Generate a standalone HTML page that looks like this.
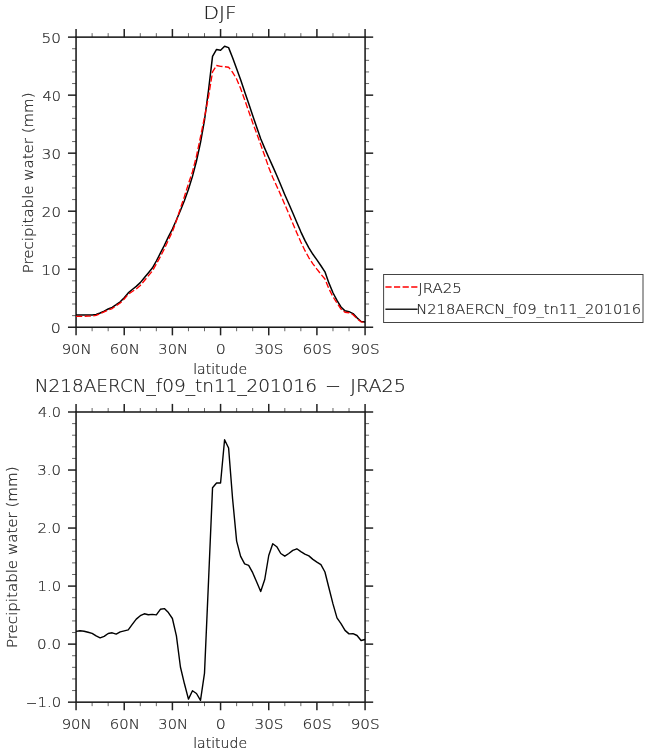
<!DOCTYPE html>
<html><head><meta charset="utf-8"><title>DJF Precipitable water</title>
<style>html,body{margin:0;padding:0;background:#fff}svg{display:block}text{font-family:"DejaVu Sans Light","DejaVu Sans","Liberation Sans",sans-serif;font-weight:200;fill:#1c1c1c;stroke:#1c1c1c;stroke-width:0.2px}</style></head><body>
<svg width="648" height="754" viewBox="0 0 648 754">
<rect width="648" height="754" fill="#fff"/>
<line x1="76.06" y1="37.13" x2="76.06" y2="29.03" stroke="#222" stroke-width="1.5"/>
<line x1="76.06" y1="327.24" x2="76.06" y2="335.34" stroke="#222" stroke-width="1.5"/>
<line x1="92.12" y1="37.13" x2="92.12" y2="33.13" stroke="#666" stroke-width="1.0"/>
<line x1="92.12" y1="327.24" x2="92.12" y2="331.24" stroke="#666" stroke-width="1.0"/>
<line x1="108.17" y1="37.13" x2="108.17" y2="33.13" stroke="#666" stroke-width="1.0"/>
<line x1="108.17" y1="327.24" x2="108.17" y2="331.24" stroke="#666" stroke-width="1.0"/>
<line x1="124.23" y1="37.13" x2="124.23" y2="29.03" stroke="#222" stroke-width="1.5"/>
<line x1="124.23" y1="327.24" x2="124.23" y2="335.34" stroke="#222" stroke-width="1.5"/>
<line x1="140.29" y1="37.13" x2="140.29" y2="33.13" stroke="#666" stroke-width="1.0"/>
<line x1="140.29" y1="327.24" x2="140.29" y2="331.24" stroke="#666" stroke-width="1.0"/>
<line x1="156.34" y1="37.13" x2="156.34" y2="33.13" stroke="#666" stroke-width="1.0"/>
<line x1="156.34" y1="327.24" x2="156.34" y2="331.24" stroke="#666" stroke-width="1.0"/>
<line x1="172.40" y1="37.13" x2="172.40" y2="29.03" stroke="#222" stroke-width="1.5"/>
<line x1="172.40" y1="327.24" x2="172.40" y2="335.34" stroke="#222" stroke-width="1.5"/>
<line x1="188.46" y1="37.13" x2="188.46" y2="33.13" stroke="#666" stroke-width="1.0"/>
<line x1="188.46" y1="327.24" x2="188.46" y2="331.24" stroke="#666" stroke-width="1.0"/>
<line x1="204.51" y1="37.13" x2="204.51" y2="33.13" stroke="#666" stroke-width="1.0"/>
<line x1="204.51" y1="327.24" x2="204.51" y2="331.24" stroke="#666" stroke-width="1.0"/>
<line x1="220.57" y1="37.13" x2="220.57" y2="29.03" stroke="#222" stroke-width="1.5"/>
<line x1="220.57" y1="327.24" x2="220.57" y2="335.34" stroke="#222" stroke-width="1.5"/>
<line x1="236.63" y1="37.13" x2="236.63" y2="33.13" stroke="#666" stroke-width="1.0"/>
<line x1="236.63" y1="327.24" x2="236.63" y2="331.24" stroke="#666" stroke-width="1.0"/>
<line x1="252.68" y1="37.13" x2="252.68" y2="33.13" stroke="#666" stroke-width="1.0"/>
<line x1="252.68" y1="327.24" x2="252.68" y2="331.24" stroke="#666" stroke-width="1.0"/>
<line x1="268.74" y1="37.13" x2="268.74" y2="29.03" stroke="#222" stroke-width="1.5"/>
<line x1="268.74" y1="327.24" x2="268.74" y2="335.34" stroke="#222" stroke-width="1.5"/>
<line x1="284.80" y1="37.13" x2="284.80" y2="33.13" stroke="#666" stroke-width="1.0"/>
<line x1="284.80" y1="327.24" x2="284.80" y2="331.24" stroke="#666" stroke-width="1.0"/>
<line x1="300.85" y1="37.13" x2="300.85" y2="33.13" stroke="#666" stroke-width="1.0"/>
<line x1="300.85" y1="327.24" x2="300.85" y2="331.24" stroke="#666" stroke-width="1.0"/>
<line x1="316.91" y1="37.13" x2="316.91" y2="29.03" stroke="#222" stroke-width="1.5"/>
<line x1="316.91" y1="327.24" x2="316.91" y2="335.34" stroke="#222" stroke-width="1.5"/>
<line x1="332.97" y1="37.13" x2="332.97" y2="33.13" stroke="#666" stroke-width="1.0"/>
<line x1="332.97" y1="327.24" x2="332.97" y2="331.24" stroke="#666" stroke-width="1.0"/>
<line x1="349.02" y1="37.13" x2="349.02" y2="33.13" stroke="#666" stroke-width="1.0"/>
<line x1="349.02" y1="327.24" x2="349.02" y2="331.24" stroke="#666" stroke-width="1.0"/>
<line x1="365.08" y1="37.13" x2="365.08" y2="29.03" stroke="#222" stroke-width="1.5"/>
<line x1="365.08" y1="327.24" x2="365.08" y2="335.34" stroke="#222" stroke-width="1.5"/>
<line x1="76.06" y1="327.24" x2="67.96" y2="327.24" stroke="#222" stroke-width="1.5"/>
<line x1="365.08" y1="327.24" x2="373.18" y2="327.24" stroke="#222" stroke-width="1.5"/>
<line x1="76.06" y1="315.64" x2="72.06" y2="315.64" stroke="#666" stroke-width="1.0"/>
<line x1="365.08" y1="315.64" x2="369.08" y2="315.64" stroke="#666" stroke-width="1.0"/>
<line x1="76.06" y1="304.03" x2="72.06" y2="304.03" stroke="#666" stroke-width="1.0"/>
<line x1="365.08" y1="304.03" x2="369.08" y2="304.03" stroke="#666" stroke-width="1.0"/>
<line x1="76.06" y1="292.43" x2="72.06" y2="292.43" stroke="#666" stroke-width="1.0"/>
<line x1="365.08" y1="292.43" x2="369.08" y2="292.43" stroke="#666" stroke-width="1.0"/>
<line x1="76.06" y1="280.82" x2="72.06" y2="280.82" stroke="#666" stroke-width="1.0"/>
<line x1="365.08" y1="280.82" x2="369.08" y2="280.82" stroke="#666" stroke-width="1.0"/>
<line x1="76.06" y1="269.22" x2="67.96" y2="269.22" stroke="#222" stroke-width="1.5"/>
<line x1="365.08" y1="269.22" x2="373.18" y2="269.22" stroke="#222" stroke-width="1.5"/>
<line x1="76.06" y1="257.61" x2="72.06" y2="257.61" stroke="#666" stroke-width="1.0"/>
<line x1="365.08" y1="257.61" x2="369.08" y2="257.61" stroke="#666" stroke-width="1.0"/>
<line x1="76.06" y1="246.01" x2="72.06" y2="246.01" stroke="#666" stroke-width="1.0"/>
<line x1="365.08" y1="246.01" x2="369.08" y2="246.01" stroke="#666" stroke-width="1.0"/>
<line x1="76.06" y1="234.40" x2="72.06" y2="234.40" stroke="#666" stroke-width="1.0"/>
<line x1="365.08" y1="234.40" x2="369.08" y2="234.40" stroke="#666" stroke-width="1.0"/>
<line x1="76.06" y1="222.80" x2="72.06" y2="222.80" stroke="#666" stroke-width="1.0"/>
<line x1="365.08" y1="222.80" x2="369.08" y2="222.80" stroke="#666" stroke-width="1.0"/>
<line x1="76.06" y1="211.20" x2="67.96" y2="211.20" stroke="#222" stroke-width="1.5"/>
<line x1="365.08" y1="211.20" x2="373.18" y2="211.20" stroke="#222" stroke-width="1.5"/>
<line x1="76.06" y1="199.59" x2="72.06" y2="199.59" stroke="#666" stroke-width="1.0"/>
<line x1="365.08" y1="199.59" x2="369.08" y2="199.59" stroke="#666" stroke-width="1.0"/>
<line x1="76.06" y1="187.99" x2="72.06" y2="187.99" stroke="#666" stroke-width="1.0"/>
<line x1="365.08" y1="187.99" x2="369.08" y2="187.99" stroke="#666" stroke-width="1.0"/>
<line x1="76.06" y1="176.38" x2="72.06" y2="176.38" stroke="#666" stroke-width="1.0"/>
<line x1="365.08" y1="176.38" x2="369.08" y2="176.38" stroke="#666" stroke-width="1.0"/>
<line x1="76.06" y1="164.78" x2="72.06" y2="164.78" stroke="#666" stroke-width="1.0"/>
<line x1="365.08" y1="164.78" x2="369.08" y2="164.78" stroke="#666" stroke-width="1.0"/>
<line x1="76.06" y1="153.17" x2="67.96" y2="153.17" stroke="#222" stroke-width="1.5"/>
<line x1="365.08" y1="153.17" x2="373.18" y2="153.17" stroke="#222" stroke-width="1.5"/>
<line x1="76.06" y1="141.57" x2="72.06" y2="141.57" stroke="#666" stroke-width="1.0"/>
<line x1="365.08" y1="141.57" x2="369.08" y2="141.57" stroke="#666" stroke-width="1.0"/>
<line x1="76.06" y1="129.97" x2="72.06" y2="129.97" stroke="#666" stroke-width="1.0"/>
<line x1="365.08" y1="129.97" x2="369.08" y2="129.97" stroke="#666" stroke-width="1.0"/>
<line x1="76.06" y1="118.36" x2="72.06" y2="118.36" stroke="#666" stroke-width="1.0"/>
<line x1="365.08" y1="118.36" x2="369.08" y2="118.36" stroke="#666" stroke-width="1.0"/>
<line x1="76.06" y1="106.76" x2="72.06" y2="106.76" stroke="#666" stroke-width="1.0"/>
<line x1="365.08" y1="106.76" x2="369.08" y2="106.76" stroke="#666" stroke-width="1.0"/>
<line x1="76.06" y1="95.15" x2="67.96" y2="95.15" stroke="#222" stroke-width="1.5"/>
<line x1="365.08" y1="95.15" x2="373.18" y2="95.15" stroke="#222" stroke-width="1.5"/>
<line x1="76.06" y1="83.55" x2="72.06" y2="83.55" stroke="#666" stroke-width="1.0"/>
<line x1="365.08" y1="83.55" x2="369.08" y2="83.55" stroke="#666" stroke-width="1.0"/>
<line x1="76.06" y1="71.94" x2="72.06" y2="71.94" stroke="#666" stroke-width="1.0"/>
<line x1="365.08" y1="71.94" x2="369.08" y2="71.94" stroke="#666" stroke-width="1.0"/>
<line x1="76.06" y1="60.34" x2="72.06" y2="60.34" stroke="#666" stroke-width="1.0"/>
<line x1="365.08" y1="60.34" x2="369.08" y2="60.34" stroke="#666" stroke-width="1.0"/>
<line x1="76.06" y1="48.73" x2="72.06" y2="48.73" stroke="#666" stroke-width="1.0"/>
<line x1="365.08" y1="48.73" x2="369.08" y2="48.73" stroke="#666" stroke-width="1.0"/>
<line x1="76.06" y1="37.13" x2="67.96" y2="37.13" stroke="#222" stroke-width="1.5"/>
<line x1="365.08" y1="37.13" x2="373.18" y2="37.13" stroke="#222" stroke-width="1.5"/>
<rect x="76.06" y="37.13" width="289.02" height="290.11" fill="none" stroke="#1a1a1a" stroke-width="1.55"/>
<polyline points="76.06,315.10 80.07,315.00 84.09,315.00 88.10,315.00 92.12,315.00 96.13,314.50 100.14,313.00 104.16,311.10 108.17,309.00 112.19,307.40 116.20,304.70 120.22,301.80 124.23,297.70 128.24,292.90 132.26,289.50 136.27,286.40 140.29,282.60 144.30,277.70 148.31,272.90 152.33,268.10 156.34,261.00 160.36,253.20 164.37,245.30 168.39,236.90 172.40,229.00 176.41,220.00 180.43,210.50 184.44,200.50 188.46,189.20 192.47,176.40 196.48,161.00 200.50,142.52 204.51,120.11 208.53,90.21 212.54,56.31 216.56,49.41 220.57,50.24 224.58,46.32 228.60,47.64 232.61,57.77 236.63,68.68 240.64,79.80 244.65,91.68 248.67,103.42 252.68,115.60 256.70,127.22 260.71,138.82 264.73,148.34 268.74,157.54 272.75,166.43 276.77,175.47 280.78,185.06 284.80,194.67 288.81,203.77 292.82,213.05 296.84,222.43 300.85,231.82 304.87,240.41 308.88,247.94 312.90,254.31 316.91,259.92 320.92,265.75 324.94,271.81 328.95,283.15 332.97,292.75 336.98,300.46 340.99,307.00 345.01,310.85 349.02,311.69 353.04,313.61 357.05,317.85 361.07,321.46 365.08,321.90" fill="none" stroke="#000" stroke-width="1.5" stroke-linejoin="round"/>
<polyline points="76.06,316.37 80.07,316.33 84.09,316.29 88.10,316.18 92.12,316.07 96.13,315.32 100.14,313.63 104.16,311.87 108.17,310.06 112.19,308.53 116.20,305.70 120.22,303.02 124.23,299.02 128.24,294.32 132.26,291.47 136.27,288.90 140.29,285.44 144.30,280.73 148.31,275.83 152.33,271.07 156.34,263.92 160.36,256.68 164.37,248.85 168.39,240.05 172.40,231.56 176.41,220.83 180.43,208.21 184.44,196.53 188.46,183.70 192.47,171.74 196.48,156.06 200.50,136.91 204.51,117.22 208.53,96.52 212.54,71.94 216.56,65.53 220.57,66.35 224.58,66.75 228.60,67.25 232.61,72.28 236.63,78.99 240.64,88.58 244.65,99.70 248.67,111.30 252.68,122.75 256.70,133.43 260.71,144.59 264.73,155.81 268.74,167.40 272.75,177.47 276.77,186.22 280.78,195.12 284.80,204.46 288.81,213.84 292.82,223.42 296.84,232.96 300.85,242.08 304.87,250.42 308.88,257.76 312.90,263.79 316.91,269.12 320.92,274.21 324.94,279.02 328.95,288.76 332.97,296.77 336.98,303.08 340.99,309.05 345.01,312.22 349.02,312.71 353.04,314.66 357.05,318.71 361.07,321.83 365.08,322.36" fill="none" stroke="#f00" stroke-width="1.35" stroke-dasharray="6.2 2.4" stroke-linejoin="round"/>
<text x="203.49" y="18.50" font-size="18.3" textLength="32.95" lengthAdjust="spacingAndGlyphs">DJF</text>
<text x="50.86" y="332.79" font-size="14.1" textLength="10.05" lengthAdjust="spacingAndGlyphs">0</text>
<text x="41.25" y="274.77" font-size="14.1" textLength="19.70" lengthAdjust="spacingAndGlyphs">10</text>
<text x="41.88" y="216.75" font-size="14.1" textLength="19.03" lengthAdjust="spacingAndGlyphs">20</text>
<text x="41.87" y="158.72" font-size="14.1" textLength="19.04" lengthAdjust="spacingAndGlyphs">30</text>
<text x="42.44" y="100.70" font-size="14.1" textLength="18.43" lengthAdjust="spacingAndGlyphs">40</text>
<text x="41.53" y="42.68" font-size="14.1" textLength="19.40" lengthAdjust="spacingAndGlyphs">50</text>
<text x="61.69" y="354.35" font-size="14.1" textLength="29.93" lengthAdjust="spacingAndGlyphs">90N</text>
<text x="109.88" y="354.35" font-size="14.1" textLength="29.93" lengthAdjust="spacingAndGlyphs">60N</text>
<text x="158.39" y="354.35" font-size="14.1" textLength="29.58" lengthAdjust="spacingAndGlyphs">30N</text>
<text x="215.78" y="354.35" font-size="14.1" textLength="10.04" lengthAdjust="spacingAndGlyphs">0</text>
<text x="254.56" y="354.35" font-size="14.1" textLength="28.94" lengthAdjust="spacingAndGlyphs">30S</text>
<text x="302.46" y="354.35" font-size="14.1" textLength="29.27" lengthAdjust="spacingAndGlyphs">60S</text>
<text x="350.68" y="354.35" font-size="14.1" textLength="28.97" lengthAdjust="spacingAndGlyphs">90S</text>
<text x="193.18" y="373.50" font-size="13.3" textLength="53.87" lengthAdjust="spacingAndGlyphs">latitude</text>
<text transform="translate(32.90,273.28) rotate(-90)" font-size="13.5" textLength="180.81" lengthAdjust="spacingAndGlyphs">Precipitable water (mm)</text>
<rect x="383.6" y="274.5" width="259.4" height="48" fill="#fff" stroke="#444" stroke-width="1"/>
<line x1="385.4" y1="287" x2="417.6" y2="287" stroke="#f00" stroke-width="1.4" stroke-dasharray="6.2 2.4"/>
<line x1="385.4" y1="309.3" x2="417.6" y2="309.3" stroke="#222" stroke-width="1.5"/>
<text x="418.25" y="292.60" font-size="13.8" textLength="43.56" lengthAdjust="spacingAndGlyphs">JRA25</text>
<text x="416.23" y="313.60" font-size="13.8" textLength="224.79" lengthAdjust="spacingAndGlyphs">N218AERCN_f09_tn11_201016</text>
<line x1="76.06" y1="412.00" x2="76.06" y2="403.90" stroke="#222" stroke-width="1.5"/>
<line x1="76.06" y1="702.16" x2="76.06" y2="710.26" stroke="#222" stroke-width="1.5"/>
<line x1="92.12" y1="412.00" x2="92.12" y2="408.00" stroke="#666" stroke-width="1.0"/>
<line x1="92.12" y1="702.16" x2="92.12" y2="706.16" stroke="#666" stroke-width="1.0"/>
<line x1="108.17" y1="412.00" x2="108.17" y2="408.00" stroke="#666" stroke-width="1.0"/>
<line x1="108.17" y1="702.16" x2="108.17" y2="706.16" stroke="#666" stroke-width="1.0"/>
<line x1="124.23" y1="412.00" x2="124.23" y2="403.90" stroke="#222" stroke-width="1.5"/>
<line x1="124.23" y1="702.16" x2="124.23" y2="710.26" stroke="#222" stroke-width="1.5"/>
<line x1="140.29" y1="412.00" x2="140.29" y2="408.00" stroke="#666" stroke-width="1.0"/>
<line x1="140.29" y1="702.16" x2="140.29" y2="706.16" stroke="#666" stroke-width="1.0"/>
<line x1="156.34" y1="412.00" x2="156.34" y2="408.00" stroke="#666" stroke-width="1.0"/>
<line x1="156.34" y1="702.16" x2="156.34" y2="706.16" stroke="#666" stroke-width="1.0"/>
<line x1="172.40" y1="412.00" x2="172.40" y2="403.90" stroke="#222" stroke-width="1.5"/>
<line x1="172.40" y1="702.16" x2="172.40" y2="710.26" stroke="#222" stroke-width="1.5"/>
<line x1="188.46" y1="412.00" x2="188.46" y2="408.00" stroke="#666" stroke-width="1.0"/>
<line x1="188.46" y1="702.16" x2="188.46" y2="706.16" stroke="#666" stroke-width="1.0"/>
<line x1="204.51" y1="412.00" x2="204.51" y2="408.00" stroke="#666" stroke-width="1.0"/>
<line x1="204.51" y1="702.16" x2="204.51" y2="706.16" stroke="#666" stroke-width="1.0"/>
<line x1="220.57" y1="412.00" x2="220.57" y2="403.90" stroke="#222" stroke-width="1.5"/>
<line x1="220.57" y1="702.16" x2="220.57" y2="710.26" stroke="#222" stroke-width="1.5"/>
<line x1="236.63" y1="412.00" x2="236.63" y2="408.00" stroke="#666" stroke-width="1.0"/>
<line x1="236.63" y1="702.16" x2="236.63" y2="706.16" stroke="#666" stroke-width="1.0"/>
<line x1="252.68" y1="412.00" x2="252.68" y2="408.00" stroke="#666" stroke-width="1.0"/>
<line x1="252.68" y1="702.16" x2="252.68" y2="706.16" stroke="#666" stroke-width="1.0"/>
<line x1="268.74" y1="412.00" x2="268.74" y2="403.90" stroke="#222" stroke-width="1.5"/>
<line x1="268.74" y1="702.16" x2="268.74" y2="710.26" stroke="#222" stroke-width="1.5"/>
<line x1="284.80" y1="412.00" x2="284.80" y2="408.00" stroke="#666" stroke-width="1.0"/>
<line x1="284.80" y1="702.16" x2="284.80" y2="706.16" stroke="#666" stroke-width="1.0"/>
<line x1="300.85" y1="412.00" x2="300.85" y2="408.00" stroke="#666" stroke-width="1.0"/>
<line x1="300.85" y1="702.16" x2="300.85" y2="706.16" stroke="#666" stroke-width="1.0"/>
<line x1="316.91" y1="412.00" x2="316.91" y2="403.90" stroke="#222" stroke-width="1.5"/>
<line x1="316.91" y1="702.16" x2="316.91" y2="710.26" stroke="#222" stroke-width="1.5"/>
<line x1="332.97" y1="412.00" x2="332.97" y2="408.00" stroke="#666" stroke-width="1.0"/>
<line x1="332.97" y1="702.16" x2="332.97" y2="706.16" stroke="#666" stroke-width="1.0"/>
<line x1="349.02" y1="412.00" x2="349.02" y2="408.00" stroke="#666" stroke-width="1.0"/>
<line x1="349.02" y1="702.16" x2="349.02" y2="706.16" stroke="#666" stroke-width="1.0"/>
<line x1="365.08" y1="412.00" x2="365.08" y2="403.90" stroke="#222" stroke-width="1.5"/>
<line x1="365.08" y1="702.16" x2="365.08" y2="710.26" stroke="#222" stroke-width="1.5"/>
<line x1="76.06" y1="702.16" x2="67.96" y2="702.16" stroke="#222" stroke-width="1.5"/>
<line x1="365.08" y1="702.16" x2="373.18" y2="702.16" stroke="#222" stroke-width="1.5"/>
<line x1="76.06" y1="690.55" x2="72.06" y2="690.55" stroke="#666" stroke-width="1.0"/>
<line x1="365.08" y1="690.55" x2="369.08" y2="690.55" stroke="#666" stroke-width="1.0"/>
<line x1="76.06" y1="678.95" x2="72.06" y2="678.95" stroke="#666" stroke-width="1.0"/>
<line x1="365.08" y1="678.95" x2="369.08" y2="678.95" stroke="#666" stroke-width="1.0"/>
<line x1="76.06" y1="667.34" x2="72.06" y2="667.34" stroke="#666" stroke-width="1.0"/>
<line x1="365.08" y1="667.34" x2="369.08" y2="667.34" stroke="#666" stroke-width="1.0"/>
<line x1="76.06" y1="655.73" x2="72.06" y2="655.73" stroke="#666" stroke-width="1.0"/>
<line x1="365.08" y1="655.73" x2="369.08" y2="655.73" stroke="#666" stroke-width="1.0"/>
<line x1="76.06" y1="644.13" x2="67.96" y2="644.13" stroke="#222" stroke-width="1.5"/>
<line x1="365.08" y1="644.13" x2="373.18" y2="644.13" stroke="#222" stroke-width="1.5"/>
<line x1="76.06" y1="632.52" x2="72.06" y2="632.52" stroke="#666" stroke-width="1.0"/>
<line x1="365.08" y1="632.52" x2="369.08" y2="632.52" stroke="#666" stroke-width="1.0"/>
<line x1="76.06" y1="620.92" x2="72.06" y2="620.92" stroke="#666" stroke-width="1.0"/>
<line x1="365.08" y1="620.92" x2="369.08" y2="620.92" stroke="#666" stroke-width="1.0"/>
<line x1="76.06" y1="609.31" x2="72.06" y2="609.31" stroke="#666" stroke-width="1.0"/>
<line x1="365.08" y1="609.31" x2="369.08" y2="609.31" stroke="#666" stroke-width="1.0"/>
<line x1="76.06" y1="597.70" x2="72.06" y2="597.70" stroke="#666" stroke-width="1.0"/>
<line x1="365.08" y1="597.70" x2="369.08" y2="597.70" stroke="#666" stroke-width="1.0"/>
<line x1="76.06" y1="586.10" x2="67.96" y2="586.10" stroke="#222" stroke-width="1.5"/>
<line x1="365.08" y1="586.10" x2="373.18" y2="586.10" stroke="#222" stroke-width="1.5"/>
<line x1="76.06" y1="574.49" x2="72.06" y2="574.49" stroke="#666" stroke-width="1.0"/>
<line x1="365.08" y1="574.49" x2="369.08" y2="574.49" stroke="#666" stroke-width="1.0"/>
<line x1="76.06" y1="562.88" x2="72.06" y2="562.88" stroke="#666" stroke-width="1.0"/>
<line x1="365.08" y1="562.88" x2="369.08" y2="562.88" stroke="#666" stroke-width="1.0"/>
<line x1="76.06" y1="551.28" x2="72.06" y2="551.28" stroke="#666" stroke-width="1.0"/>
<line x1="365.08" y1="551.28" x2="369.08" y2="551.28" stroke="#666" stroke-width="1.0"/>
<line x1="76.06" y1="539.67" x2="72.06" y2="539.67" stroke="#666" stroke-width="1.0"/>
<line x1="365.08" y1="539.67" x2="369.08" y2="539.67" stroke="#666" stroke-width="1.0"/>
<line x1="76.06" y1="528.06" x2="67.96" y2="528.06" stroke="#222" stroke-width="1.5"/>
<line x1="365.08" y1="528.06" x2="373.18" y2="528.06" stroke="#222" stroke-width="1.5"/>
<line x1="76.06" y1="516.46" x2="72.06" y2="516.46" stroke="#666" stroke-width="1.0"/>
<line x1="365.08" y1="516.46" x2="369.08" y2="516.46" stroke="#666" stroke-width="1.0"/>
<line x1="76.06" y1="504.85" x2="72.06" y2="504.85" stroke="#666" stroke-width="1.0"/>
<line x1="365.08" y1="504.85" x2="369.08" y2="504.85" stroke="#666" stroke-width="1.0"/>
<line x1="76.06" y1="493.24" x2="72.06" y2="493.24" stroke="#666" stroke-width="1.0"/>
<line x1="365.08" y1="493.24" x2="369.08" y2="493.24" stroke="#666" stroke-width="1.0"/>
<line x1="76.06" y1="481.64" x2="72.06" y2="481.64" stroke="#666" stroke-width="1.0"/>
<line x1="365.08" y1="481.64" x2="369.08" y2="481.64" stroke="#666" stroke-width="1.0"/>
<line x1="76.06" y1="470.03" x2="67.96" y2="470.03" stroke="#222" stroke-width="1.5"/>
<line x1="365.08" y1="470.03" x2="373.18" y2="470.03" stroke="#222" stroke-width="1.5"/>
<line x1="76.06" y1="458.43" x2="72.06" y2="458.43" stroke="#666" stroke-width="1.0"/>
<line x1="365.08" y1="458.43" x2="369.08" y2="458.43" stroke="#666" stroke-width="1.0"/>
<line x1="76.06" y1="446.82" x2="72.06" y2="446.82" stroke="#666" stroke-width="1.0"/>
<line x1="365.08" y1="446.82" x2="369.08" y2="446.82" stroke="#666" stroke-width="1.0"/>
<line x1="76.06" y1="435.21" x2="72.06" y2="435.21" stroke="#666" stroke-width="1.0"/>
<line x1="365.08" y1="435.21" x2="369.08" y2="435.21" stroke="#666" stroke-width="1.0"/>
<line x1="76.06" y1="423.61" x2="72.06" y2="423.61" stroke="#666" stroke-width="1.0"/>
<line x1="365.08" y1="423.61" x2="369.08" y2="423.61" stroke="#666" stroke-width="1.0"/>
<line x1="76.06" y1="412.00" x2="67.96" y2="412.00" stroke="#222" stroke-width="1.5"/>
<line x1="365.08" y1="412.00" x2="373.18" y2="412.00" stroke="#222" stroke-width="1.5"/>
<rect x="76.06" y="412.00" width="289.02" height="290.16" fill="none" stroke="#1a1a1a" stroke-width="1.55"/>
<polyline points="76.06,631.40 80.07,630.80 84.09,631.20 88.10,632.30 92.12,633.40 96.13,635.90 100.14,637.80 104.16,636.40 108.17,633.50 112.19,632.80 116.20,634.10 120.22,631.90 124.23,630.90 128.24,629.90 132.26,624.40 136.27,619.10 140.29,615.70 144.30,613.80 148.31,614.80 152.33,614.40 156.34,614.90 160.36,609.30 164.37,608.60 168.39,612.60 172.40,618.50 176.41,635.80 180.43,667.00 184.44,683.80 188.46,699.10 192.47,690.70 196.48,693.50 200.50,700.30 204.51,673.10 208.53,581.00 212.54,487.80 216.56,483.00 220.57,483.00 224.58,439.80 228.60,448.00 232.61,499.00 236.63,541.10 240.64,556.40 244.65,563.90 248.67,565.30 252.68,572.70 256.70,582.00 260.71,591.50 264.73,579.50 268.74,555.50 272.75,543.70 276.77,546.70 280.78,553.50 284.80,556.20 288.81,553.50 292.82,550.40 296.84,548.80 300.85,551.60 304.87,554.10 308.88,555.90 312.90,559.40 316.91,562.10 320.92,564.60 324.94,572.00 328.95,588.00 332.97,603.90 336.98,617.90 340.99,623.60 345.01,630.40 349.02,633.90 353.04,633.60 357.05,635.50 361.07,640.50 365.08,639.50" fill="none" stroke="#000" stroke-width="1.4" stroke-linejoin="round"/>
<text y="392" font-size="16.8"><tspan x="34.72" textLength="282.30" lengthAdjust="spacingAndGlyphs">N218AERCN_f09_tn11_201016</tspan> <tspan x="324.99" dy="-1.0" textLength="16.04" lengthAdjust="spacingAndGlyphs">-</tspan> <tspan x="350.24" dy="1.0" textLength="55.84" lengthAdjust="spacingAndGlyphs">JRA25</tspan></text>
<text y="707.36" font-size="13.8"><tspan x="25.93" dy="-0.6" textLength="11.15" lengthAdjust="spacingAndGlyphs">-</tspan><tspan x="37.56" dy="0.6" textLength="23.60" lengthAdjust="spacingAndGlyphs">1.0</tspan></text>
<text x="37.12" y="649.33" font-size="13.8" textLength="24.03" lengthAdjust="spacingAndGlyphs">0.0</text>
<text x="37.56" y="591.30" font-size="13.8" textLength="23.60" lengthAdjust="spacingAndGlyphs">1.0</text>
<text x="37.41" y="533.26" font-size="13.8" textLength="23.71" lengthAdjust="spacingAndGlyphs">2.0</text>
<text x="37.38" y="475.23" font-size="13.8" textLength="23.74" lengthAdjust="spacingAndGlyphs">3.0</text>
<text x="37.95" y="417.20" font-size="13.8" textLength="23.15" lengthAdjust="spacingAndGlyphs">4.0</text>
<text x="61.69" y="728.60" font-size="14.1" textLength="29.93" lengthAdjust="spacingAndGlyphs">90N</text>
<text x="109.88" y="728.60" font-size="14.1" textLength="29.93" lengthAdjust="spacingAndGlyphs">60N</text>
<text x="158.39" y="728.60" font-size="14.1" textLength="29.58" lengthAdjust="spacingAndGlyphs">30N</text>
<text x="215.78" y="728.60" font-size="14.1" textLength="10.04" lengthAdjust="spacingAndGlyphs">0</text>
<text x="254.56" y="728.60" font-size="14.1" textLength="28.94" lengthAdjust="spacingAndGlyphs">30S</text>
<text x="302.46" y="728.60" font-size="14.1" textLength="29.27" lengthAdjust="spacingAndGlyphs">60S</text>
<text x="350.68" y="728.60" font-size="14.1" textLength="28.97" lengthAdjust="spacingAndGlyphs">90S</text>
<text x="193.18" y="748.10" font-size="13.3" textLength="53.87" lengthAdjust="spacingAndGlyphs">latitude</text>
<text transform="translate(16.80,648.03) rotate(-90)" font-size="13.5" textLength="181.56" lengthAdjust="spacingAndGlyphs">Precipitable water (mm)</text>
</svg></body></html>
